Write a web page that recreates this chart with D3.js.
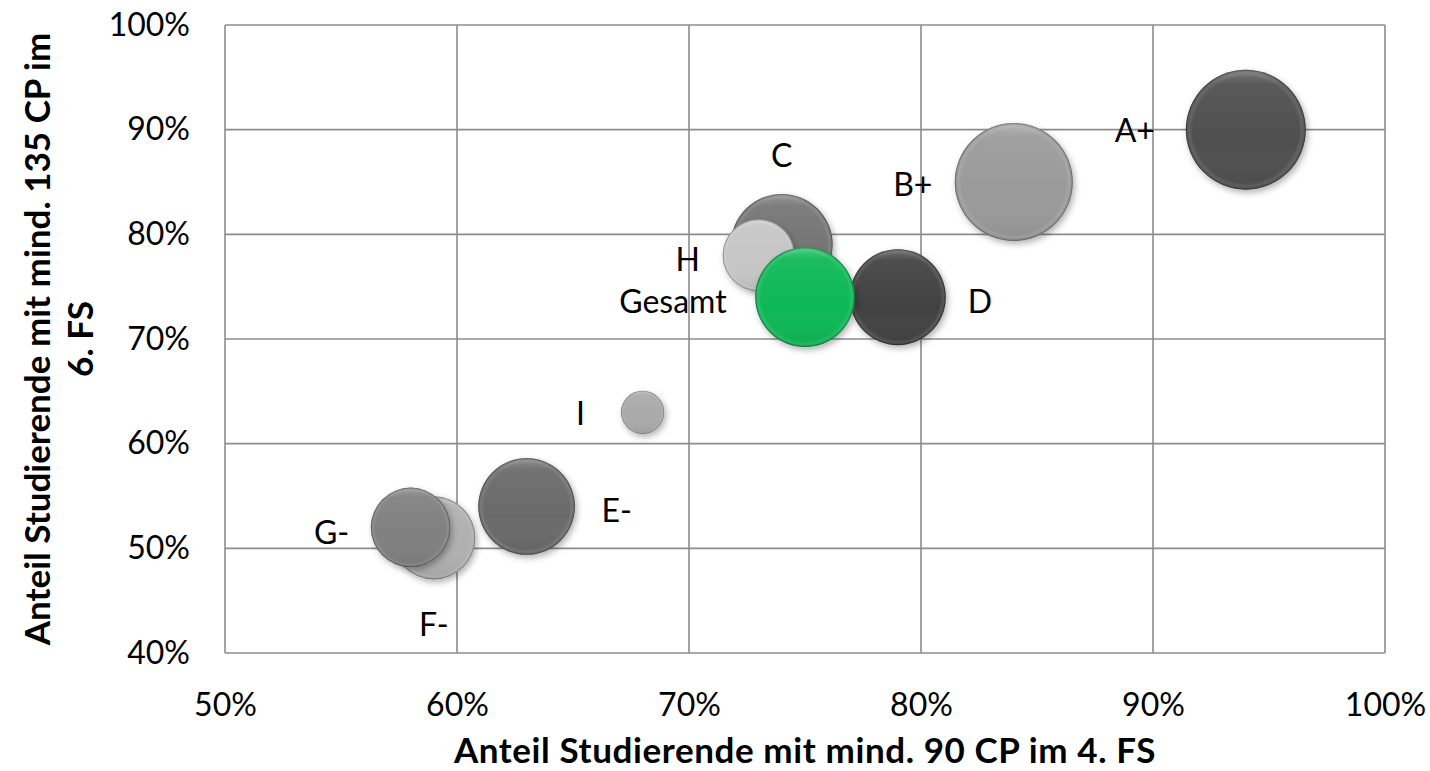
<!DOCTYPE html>
<html><head><meta charset="utf-8">
<script src="https://cdn.jsdelivr.net/npm/d3@7"></script>
<style>html,body{margin:0;padding:0;background:#fff}svg{display:block}</style>
</head><body>
<svg id="chart" width="1430" height="771"></svg>
<script>
// ---- data ----
const names = ["A+","B+","C","D","E-","F-","G-","H","I","Gesamt"];
const xValues = [0.94,0.84,0.74,0.79,0.63,0.59,0.58,0.73,0.68,0.75];
const yValues = [0.90,0.85,0.79,0.74,0.54,0.51,0.52,0.78,0.63,0.74];
const sizes = [100,97,72,64,65,48,44,36,13,69];
const colors = ["#505050","#9a9a9a","#747474","#424242","#6a6a6a","#b0b0b0","#808080","#c6c6c6","#aaaaaa","#0cb856"];
const xTicks = [0.5,0.6,0.7,0.8,0.9,1.0];
const yTicks = [0.4,0.5,0.6,0.7,0.8,0.9,1.0];
const xTitle = "Anteil Studierende mit mind. 90 CP im 4. FS";
const yTitleLines = ["Anteil Studierende mit mind. 135 CP im","6. FS"];
// label offsets (layout, px)
const labelDx = [-111,-101,0,82,90,0,-79,-71,-62,-132];
const labelDy = [0,1,-90,3,3,86,4,3,0,3];

const svg = d3.select("#chart");
const m = {l:225, r:1385, t:25, b:653};
const x = d3.scaleLinear().domain([0.5,1.0]).range([m.l,m.r]);
const y = d3.scaleLinear().domain([0.4,1.0]).range([m.b,m.t]);
const r = d3.scaleSqrt().domain([0,100]).range([0,60]);
const font = "Lato, 'Open Sans', sans-serif";
const fmt = d3.format(".0%");

const defs = svg.append("defs");
const f = defs.append("filter").attr("id","sh").attr("x","-30%").attr("y","-30%").attr("width","160%").attr("height","160%");
f.append("feDropShadow").attr("dx",2).attr("dy",3).attr("stdDeviation",3).attr("flood-color","#000").attr("flood-opacity",0.3);
const hg = defs.append("radialGradient").attr("id","bevel").attr("cx","50%").attr("cy","50%").attr("r","50%");
hg.append("stop").attr("offset","0%").attr("stop-color","#fff").attr("stop-opacity",0);
hg.append("stop").attr("offset","88%").attr("stop-color","#fff").attr("stop-opacity",0);
hg.append("stop").attr("offset","94%").attr("stop-color","#fff").attr("stop-opacity",0.1);
hg.append("stop").attr("offset","100%").attr("stop-color","#000").attr("stop-opacity",0.22);
const tg = defs.append("linearGradient").attr("id","top").attr("x1",0).attr("y1",0).attr("x2",0).attr("y2",1);
tg.append("stop").attr("offset","0%").attr("stop-color","#fff").attr("stop-opacity",0.25);
tg.append("stop").attr("offset","12%").attr("stop-color","#fff").attr("stop-opacity",0.06);
tg.append("stop").attr("offset","60%").attr("stop-color","#fff").attr("stop-opacity",0);
tg.append("stop").attr("offset","100%").attr("stop-color","#000").attr("stop-opacity",0.08);

// grid
const grid = svg.append("g").attr("stroke","#8c8c8c").attr("stroke-width",1.6);
grid.selectAll(".gx").data(xTicks).join("line")
  .attr("x1",d=>x(d)).attr("x2",d=>x(d)).attr("y1",m.t).attr("y2",m.b);
grid.selectAll(".gy").data(yTicks).join("line")
  .attr("x1",m.l).attr("x2",m.r).attr("y1",d=>y(d)).attr("y2",d=>y(d));

// axes labels
const xa = svg.append("g").attr("transform",`translate(0,${m.b+20})`)
  .call(d3.axisBottom(x).tickValues(xTicks).tickFormat(fmt).tickSize(0).tickPadding(20));
xa.select(".domain").remove();
xa.selectAll("text").attr("font-family",font).attr("font-size",32).attr("fill","#000");
const ya = svg.append("g").attr("transform",`translate(${m.l-13},0)`)
  .call(d3.axisLeft(y).tickValues(yTicks).tickFormat(fmt).tickSize(0).tickPadding(22));
ya.select(".domain").remove();
ya.selectAll("text").attr("font-family",font).attr("font-size",32).attr("fill","#000");

// bubbles
const idx = d3.range(names.length);
const bg = svg.append("g");
const b = bg.selectAll("g").data(idx).join("g")
  .attr("transform",i=>`translate(${x(xValues[i])},${y(yValues[i])})`);
b.append("circle").attr("r",i=>r(sizes[i])).attr("fill",i=>colors[i]).attr("filter","url(#sh)");
b.append("circle").attr("r",i=>r(sizes[i])).attr("fill","url(#top)");
b.append("circle").attr("r",i=>r(sizes[i])).attr("fill","url(#bevel)");
b.append("circle").attr("r",i=>r(sizes[i])-0.5).attr("fill","none").attr("stroke","rgba(0,0,0,0.15)").attr("stroke-width",1);

// labels
svg.append("g").selectAll("text").data(idx).join("text")
  .attr("x",i=>x(xValues[i])+labelDx[i]).attr("y",i=>y(yValues[i])+labelDy[i])
  .attr("text-anchor","middle").attr("dominant-baseline","central")
  .attr("font-family",font).attr("font-size",32).attr("fill","#000")
  .text(i=>names[i]);

// titles
svg.append("text").attr("x",(m.l+m.r)/2).attr("y",749).attr("text-anchor","middle")
  .attr("dominant-baseline","central").attr("font-family",font).attr("font-weight","bold")
  .attr("font-size",35).attr("letter-spacing",0.6).attr("fill","#000").text(xTitle);
const yt = svg.append("text").attr("transform",`translate(0,${(m.t+m.b)/2}) rotate(-90)`)
  .attr("text-anchor","middle").attr("font-family",font).attr("font-weight","bold")
  .attr("font-size",35).attr("fill","#000");
yt.selectAll("tspan").data(yTitleLines).join("tspan")
  .attr("x",0).attr("y",(d,i)=>36+i*43).attr("dominant-baseline","central").text(d=>d);
</script>
</body></html>
